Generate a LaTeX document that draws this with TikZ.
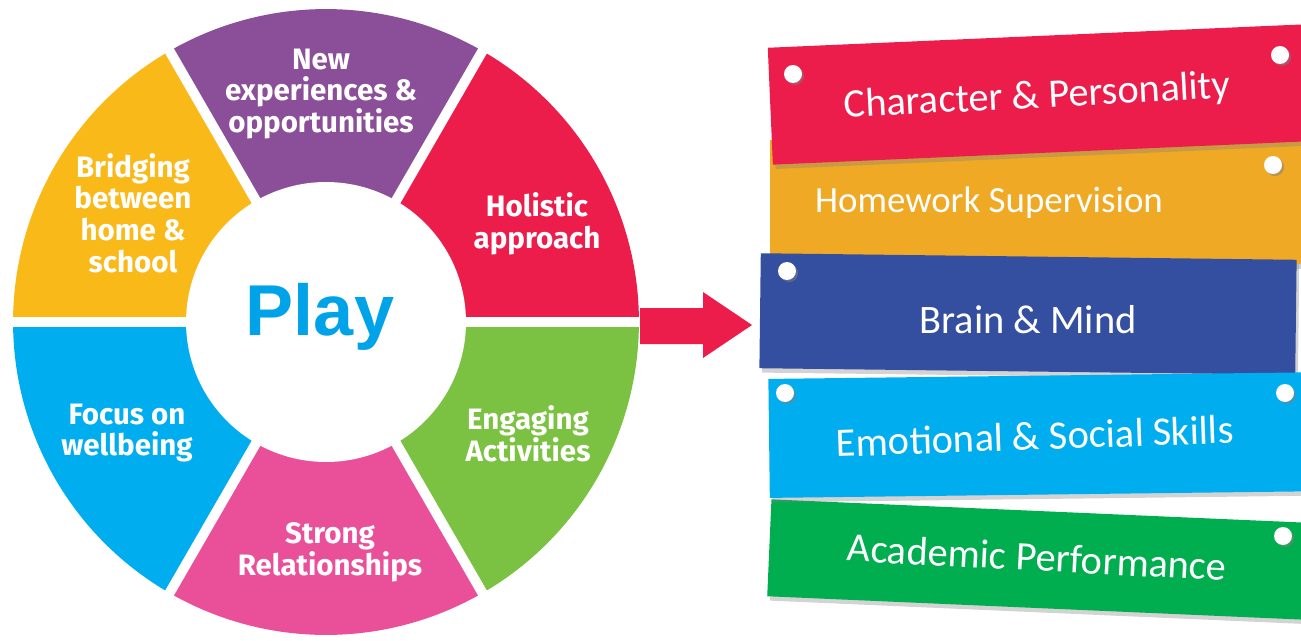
\documentclass[tikz,border=0pt]{standalone}
\usepackage{fontspec}
\setmainfont{Carlito}
\newfontfamily\wheelfont{Fira Sans}
\newfontfamily\playfont{Liberation Sans}
\usetikzlibrary{positioning}
\usetikzlibrary{shadows}

\definecolor{segred}{HTML}{EC1C4B}
\definecolor{segpurple}{HTML}{8A4F98}
\definecolor{segyellow}{HTML}{F9B918}
\definecolor{segblue}{HTML}{00ADEE}
\definecolor{segpink}{HTML}{EA4F9A}
\definecolor{seggreen}{HTML}{7CC242}
\definecolor{playblue}{HTML}{00A3E8}
\definecolor{tagred}{HTML}{EC1C4B}
\definecolor{tagyellow}{HTML}{F0A924}
\definecolor{tagblue}{HTML}{354FA0}
\definecolor{tagcyan}{HTML}{00AEEF}
\definecolor{taggreen}{HTML}{00AE4F}

\begin{document}
\begin{tikzpicture}[x=0.02cm,y=0.02cm,
	wheel label/.style={text=white,align=center,font=\wheelfont\bfseries\fontsize{16.8}{18}\selectfont},
	tag/.style={minimum width=11.2cm,inner sep=0pt,
		drop shadow={shadow xshift=1.5pt,shadow yshift=-2.5pt,opacity=0.35}},
	tag text/.style={text=white,font=\fontsize{23}{23}\selectfont},
	pin/.style={circle,fill=white,minimum size=0.36cm,inner sep=0pt,
		drop shadow={shadow xshift=1.2pt,shadow yshift=-1.2pt,opacity=0.5}}]
	
	\useasboundingbox (0,0) rectangle (1301,640);
	\coordinate (c) at (326,318);
	
	% wheel
	\foreach \col/\a in {segred/0,segpurple/60,segyellow/120,segblue/180,segpink/240,seggreen/300}
	\fill[\col] (c) -- ++(\a:6.26cm) arc[start angle=\a,end angle=\a+60,radius=6.26cm] -- cycle;
	\foreach \a in {0,60,...,300}
	\draw[white,line width=0.2cm] (c) -- ++(\a:6.5cm);
	\fill[white] (c) circle[radius=2.8cm];
	
	\node[text=playblue,font=\playfont\bfseries\fontsize{41}{41}\selectfont] (play) at (320,323) {Play};
	
	\node[wheel label] (new)      at (321,546) {New\\experiences \&\\opportunities};
	\node[wheel label] (holistic) at (537,416) {Holistic\\approach};
	\node[wheel label] (bridging) at (133,427) {Bridging\\between\\home \&\\school};
	\node[wheel label] (focus)    at (127,207) {Focus on\\wellbeing};
	\node[wheel label] (engaging) at (528,206) {Engaging\\Activities};
	\node[wheel label] (strong)   at (330,88)  {Strong\\Relationships};
	
	% arrow
	\fill[segred] (640,332) -- (703,332) -- (703,348) -- (752,315) -- (703,282) -- (703,296) -- (640,296) -- cycle;
	
	% tags
	\node[tag,fill=tagyellow,minimum width=11cm,minimum height=2.5cm] (hometag) at (1045,438) {};
	\node[tag,fill=tagred,minimum height=2.34cm,rotate=2.5] (chartag) at (1050,546) {};
	\node[tag,fill=tagblue,minimum width=10.72cm,minimum height=2.3cm,rotate=-0.7] (braintag) at (1028,326) {};
	\node[tag,fill=taggreen,minimum height=1.94cm,rotate=-2.5] (acadtag) at (1049,80) {};
	\node[tag,fill=tagcyan,minimum height=2.38cm,rotate=0.7] (emotag) at (1049,205) {};
	
	\node[pin] (charpinl) at (793,566) {};
	\node[pin] (charpinr) at (1280,585) {};
	\node[pin] (homepin)  at (1273,475) {};
	\node[pin] (brainpin) at (787,369) {};
	\node[pin] (emopinl)  at (785,247) {};
	\node[pin] (emopinr)  at (1285,247) {};
	\node[pin] (acadpin)  at (1283,104) {};
	
	\node[tag text,rotate=3]  (chartext)  at (1037,543) {Character \& Personality};
	\node[tag text,font=\fontsize{21}{21}\selectfont] (hometext) at (989,437) {Homework Supervision};
	\node[tag text]           (braintext) at (1028,320) {Brain \& Mind};
	\node[tag text,rotate=2]  (emotext)   at (1035,204) {Emotional \& Social Skills};
	\node[tag text,rotate=-3] (acadtext)  at (1037,83)  {Academic Performance};
\end{tikzpicture}
\end{document}
